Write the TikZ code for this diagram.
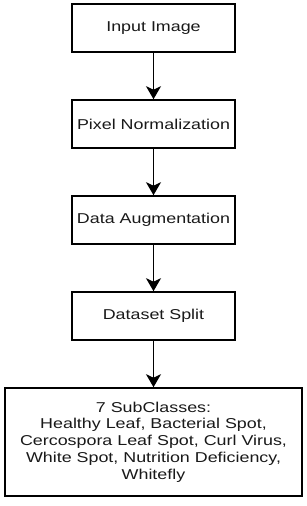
\documentclass[tikz,border=0pt]{standalone}
\usepackage{fontspec}
\setmainfont{Liberation Sans}[FakeStretch=1.25]
\usetikzlibrary{arrows.meta}
\begin{document}
\begin{tikzpicture}[x=1pt,y=-1pt,
  stepbox/.style={draw=black,line width=1.6pt,fill=white,minimum width=163pt,minimum height=48pt,inner sep=0pt,
    align=center,text=black!90,font=\fontsize{14.3pt}{16.8pt}\selectfont},
  bigbox/.style={stepbox,minimum width=297pt,minimum height=108pt},
  flow/.style={draw=black,line width=1.4pt,-{Stealth[length=13pt,width=15pt,inset=3.5pt]}}]
\useasboundingbox (0,0) rectangle (307,506);
\node[stepbox] (in) at (153.5,28) {Input Image};
\node[stepbox] (pn) at (153.5,124) {Pixel Normalization};
\node[stepbox] (da) at (153.5,220) {Data Augmentation};
\node[stepbox] (ds) at (153.5,316) {Dataset Split};
\node[bigbox] (sc) at (153.5,442) {7 SubClasses:\\Healthy Leaf, Bacterial Spot,\\Cercospora Leaf Spot, Curl Virus,\\White Spot, Nutrition Deficiency,\\Whitefly};
\draw[flow] (in) -- (pn);
\draw[flow] (pn) -- (da);
\draw[flow] (da) -- (ds);
\draw[flow] (ds) -- (sc);
\end{tikzpicture}
\end{document}
